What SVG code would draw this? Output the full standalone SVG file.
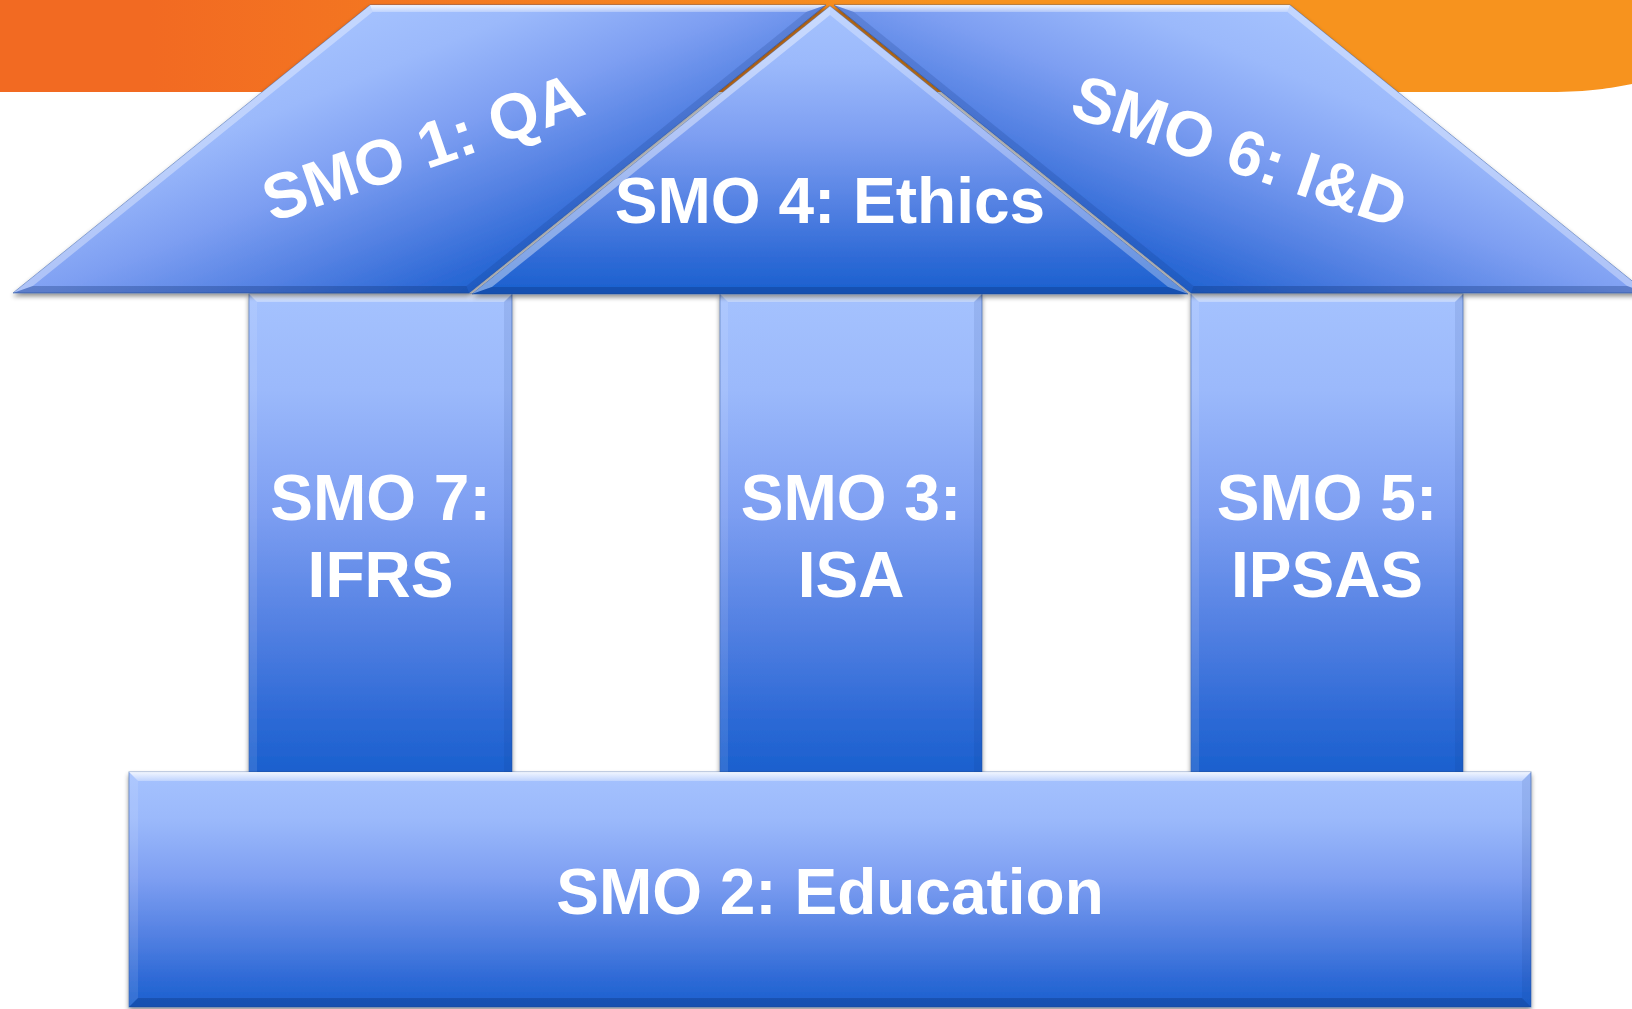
<svg xmlns="http://www.w3.org/2000/svg" width="1632" height="1009" viewBox="0 0 1632 1009">
  <defs>
    <style>
      .lbl { font-family: "Liberation Sans", Arial, sans-serif; font-size: 64px; font-weight: 700; fill: #ffffff; text-anchor: middle; }
      .edge { stroke: #24509f; stroke-opacity: 0.5; stroke-width: 1; }
      .hl-top { fill: url(#gBevelTop); }
      .hl-side { fill: #ffffff; fill-opacity: 0.22; }
      .hl-soft { fill: #ffffff; fill-opacity: 0.1; }
      .sh-side { fill: #0a2a6e; fill-opacity: 0.16; }
      .sh-soft { fill: #0a2a6e; fill-opacity: 0.09; }
      .sh-bot { fill: #0a2a6e; fill-opacity: 0.3; }
    </style>
    <!-- orange header band -->
    <linearGradient id="gOrange" gradientUnits="userSpaceOnUse" x1="150" y1="0" x2="950" y2="0">
      <stop offset="0" stop-color="#F26A22"/>
      <stop offset="1" stop-color="#F7931E"/>
    </linearGradient>
    <!-- standard blue block fill -->
    <linearGradient id="gBlue" x1="0" y1="0" x2="0" y2="1">
      <stop offset="0" stop-color="#A5C2FE"/>
      <stop offset="0.2" stop-color="#9BB9FB"/>
      <stop offset="0.45" stop-color="#7E9FF2"/>
      <stop offset="0.7" stop-color="#5280E2"/>
      <stop offset="0.88" stop-color="#2E6AD6"/>
      <stop offset="1" stop-color="#1A60CE"/>
    </linearGradient>
    <linearGradient id="gRoofL" href="#gBlue" gradientUnits="userSpaceOnUse" x1="370" y1="5" x2="490" y2="300"/>
    <linearGradient id="gRoofR" href="#gBlue" gradientUnits="userSpaceOnUse" x1="1290" y1="5" x2="1170" y2="300"/>
    <linearGradient id="gBevelTop" x1="0" y1="0" x2="0" y2="1">
      <stop offset="0" stop-color="#ffffff" stop-opacity="0.85"/>
      <stop offset="1" stop-color="#ffffff" stop-opacity="0.3"/>
    </linearGradient>
    <filter id="shadow" x="-5%" y="-5%" width="110%" height="115%">
      <feGaussianBlur in="SourceAlpha" stdDeviation="2.5"/>
      <feOffset dx="0" dy="3"/>
      <feComponentTransfer><feFuncA type="linear" slope="0.45"/></feComponentTransfer>
      <feMerge><feMergeNode/><feMergeNode in="SourceGraphic"/></feMerge>
    </filter>
  </defs>

  <rect width="1632" height="1009" fill="#ffffff"/>
  <path id="band" d="M0 0 H1632 V84 C1610 88 1590 92 1550 92 H0 Z" fill="url(#gOrange)"/>

  <!-- pillars -->
  <g id="smo7">
    <rect class="edge" x="249" y="294" width="263" height="478" fill="url(#gBlue)" filter="url(#shadow)"/>
    <polygon class="hl-top" points="249,294 512,294 504,302 257,302"/>
    <polygon class="hl-soft" points="249,294 257,302 257,772 249,772"/>
    <polygon class="sh-soft" points="512,294 512,772 504,772 504,302"/>
    <text class="lbl" x="380.5" y="520">SMO 7:</text>
    <text class="lbl" x="380.5" y="597">IFRS</text>
  </g>
  <g id="smo3">
    <rect class="edge" x="720" y="294" width="262" height="478" fill="url(#gBlue)" filter="url(#shadow)"/>
    <polygon class="hl-top" points="720,294 982,294 974,302 728,302"/>
    <polygon class="hl-soft" points="720,294 728,302 728,772 720,772"/>
    <polygon class="sh-soft" points="982,294 982,772 974,772 974,302"/>
    <text class="lbl" x="851" y="520">SMO 3:</text>
    <text class="lbl" x="851" y="597">ISA</text>
  </g>
  <g id="smo5">
    <rect class="edge" x="1191" y="294" width="272" height="478" fill="url(#gBlue)" filter="url(#shadow)"/>
    <polygon class="hl-top" points="1191,294 1463,294 1455,302 1199,302"/>
    <polygon class="hl-soft" points="1191,294 1199,302 1199,772 1191,772"/>
    <polygon class="sh-soft" points="1463,294 1463,772 1455,772 1455,302"/>
    <text class="lbl" x="1327" y="520">SMO 5:</text>
    <text class="lbl" x="1327" y="597">IPSAS</text>
  </g>

  <!-- foundation -->
  <g id="smo2">
    <rect class="edge" x="129" y="772" width="1402" height="235" fill="url(#gBlue)" filter="url(#shadow)"/>
    <polygon class="hl-top" points="129,772 1531,772 1522,781 138,781"/>
    <polygon class="hl-soft" points="129,772 138,781 138,998 129,1007"/>
    <polygon class="sh-soft" points="1531,772 1531,1007 1522,998 1522,781"/>
    <polygon class="sh-bot" points="129,1007 1531,1007 1522,998 138,998"/>
    <text class="lbl" x="830" y="914">SMO 2: Education</text>
  </g>

  <!-- roof -->
  <g id="smo1">
    <polygon class="edge" points="13,293 370,5 826,5 469,293" fill="url(#gRoofL)" filter="url(#shadow)"/>
    <polygon class="hl-side" points="13,293 370,5 372.5,12 32.8,286" style="fill-opacity:0.35"/>
    <polygon class="hl-top" points="370,5 826,5 806.2,12 372.5,12"/>
    <polygon class="sh-side" points="826,5 469,293 466.5,286 806.2,12"/>
    <polygon class="sh-bot" points="469,293 13,293 32.8,286 466.5,286"/>
    <text class="lbl" x="430" y="168" transform="rotate(-19 430 168)">SMO 1: QA</text>
  </g>
  <g id="smo6">
    <polygon class="edge" points="1647,293 1290,5 834,5 1191,293" fill="url(#gRoofR)" filter="url(#shadow)"/>
    <polygon class="hl-side" points="1647,293 1290,5 1287.5,12 1627.2,286" style="fill-opacity:0.35"/>
    <polygon class="hl-top" points="1290,5 834,5 853.8,12 1287.5,12"/>
    <polygon class="sh-side" points="834,5 1191,293 1193.5,286 853.8,12"/>
    <polygon class="sh-bot" points="1191,293 1647,293 1627.2,286 1193.5,286"/>
    <text class="lbl" x="1232.5" y="172" transform="rotate(19 1232.5 172)">SMO 6: I&amp;D</text>
  </g>
  <g id="smo4">
    <polygon class="edge" points="830,6 1188,294 472,294" fill="url(#gBlue)" filter="url(#shadow)"/>
    <polygon class="hl-side" points="472,294 830,6 830,15 491.9,287" style="fill-opacity:0.4"/>
    <polygon class="hl-side" points="830,6 1188,294 1168.1,287 830,15" style="fill-opacity:0.3"/>
    <polygon class="sh-bot" points="1188,294 472,294 491.9,287 1168.1,287"/>
    <text class="lbl" x="830" y="223">SMO 4: Ethics</text>
  </g>

  <g id="connectors"/>
</svg>
